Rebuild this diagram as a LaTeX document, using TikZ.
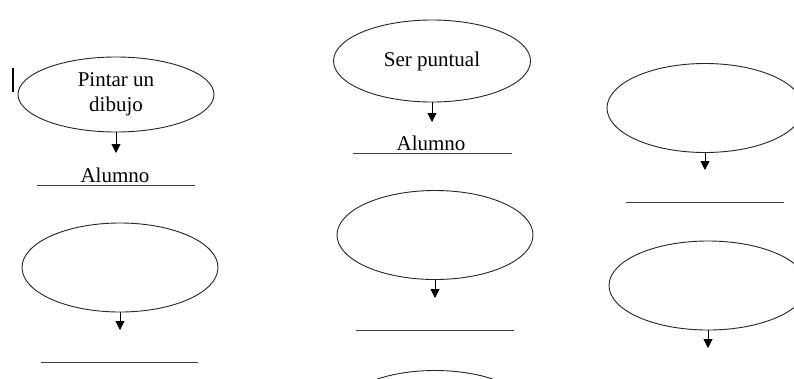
\documentclass[tikz,border=0pt]{standalone}
\usepackage{fontspec}
\setmainfont{Liberation Serif}
\usetikzlibrary{shapes.geometric,arrows.meta}
\tikzset{
  ell/.style={ellipse,draw=black!85,line width=0.9pt,inner sep=0pt,minimum width=196pt,minimum height=89pt,align=center,font=\fontsize{21}{25}\selectfont},
  arr/.style={draw=black,line width=0.9pt,-{Triangle[length=9pt,width=9pt]}},
  lbl/.style={inner sep=0pt,font=\fontsize{21}{25}\selectfont},
  rule/.style={draw=black!75,line width=1pt}
}
\begin{document}
\begin{tikzpicture}[x=1pt,y=-1pt]
\useasboundingbox (0,0) rectangle (794,378);
\clip (0,0) rectangle (794,378);
\fill[white] (0,0) rectangle (794,378);
% vertical bar
\coordinate (b1) at (13,68);
\coordinate (b2) at (13,92);
\draw[line width=2pt] (b1) -- (b2);
% ellipses
\node[ell,minimum height=75pt] (e1) at (116,94.5) {Pintar un\\dibujo};
\node[ell,minimum width=197pt,minimum height=82pt] (e2) at (432,61) {Ser puntual};
\node[ell] (e3) at (705,108) {};
\node[ell] (e4) at (120,267.5) {};
\node[ell] (e5) at (435,235) {};
\node[ell,minimum width=198pt] (e6) at (708,285.5) {};
\node[ell] (e7) at (435,415) {};
% arrow tips
\coordinate (t1) at (116,153);
\coordinate (t2) at (432,122);
\coordinate (t3) at (705,170);
\coordinate (t4) at (120,330);
\coordinate (t5) at (435,298);
\coordinate (t6) at (708,348);
\draw[arr] (e1.south) -- (t1);
\draw[arr] (e2.south) -- (t2);
\draw[arr] (e3.south) -- (t3);
\draw[arr] (e4.south) -- (t4);
\draw[arr] (e5.south) -- (t5);
\draw[arr] (e6.south) -- (t6);
% labels
\node[lbl] (a1) at (115,175) {Alumno};
\node[lbl] (a2) at (431,143) {Alumno};
% rules
\coordinate (r1a) at (37,185);  \coordinate (r1b) at (195,185);
\coordinate (r2a) at (353,153); \coordinate (r2b) at (512,153);
\coordinate (r3a) at (626,202); \coordinate (r3b) at (784,202);
\coordinate (r4a) at (41,362);  \coordinate (r4b) at (198,362);
\coordinate (r5a) at (356,330); \coordinate (r5b) at (514,330);
\draw[rule] (r1a) -- (r1b);
\draw[rule] (r2a) -- (r2b);
\draw[rule] (r3a) -- (r3b);
\draw[rule] (r4a) -- (r4b);
\draw[rule] (r5a) -- (r5b);
\end{tikzpicture}
\end{document}
